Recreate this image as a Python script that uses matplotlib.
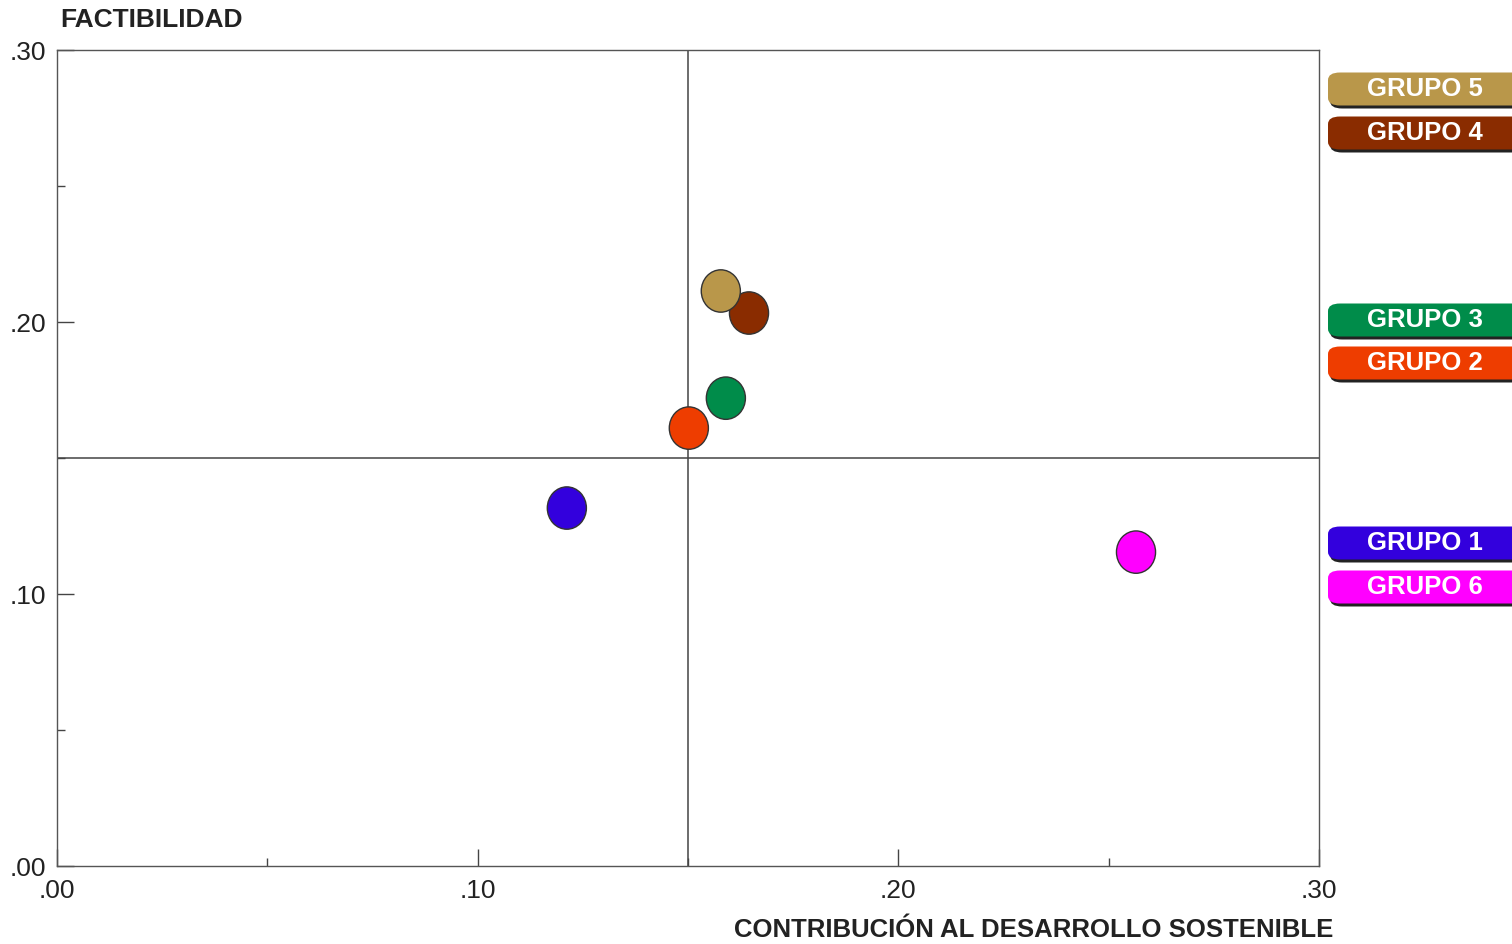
import matplotlib.pyplot as plt
from matplotlib.patches import FancyBboxPatch
from matplotlib.markers import MarkerStyle
from matplotlib.transforms import Affine2D

# data
grupos = ['GRUPO 1', 'GRUPO 2', 'GRUPO 3', 'GRUPO 4', 'GRUPO 5', 'GRUPO 6']
contribucion = [0.1212, 0.1502, 0.1590, 0.1645, 0.1578, 0.2565]
factibilidad = [0.1316, 0.1610, 0.1720, 0.2033, 0.2114, 0.1154]
colores = ['#3300dd', '#ee3d00', '#008c4a', '#8a2c00', '#b9974a', '#ff00ff']
corte_x = 0.15
corte_y = 0.15
ticks = [0.0, 0.10, 0.20, 0.30]
tick_labels = ['.00', '.10', '.20', '.30']

# label box layout (figure pixel y of box centre)
label_y_px = {'GRUPO 5': 89, 'GRUPO 4': 133, 'GRUPO 3': 320,
              'GRUPO 2': 363, 'GRUPO 1': 543, 'GRUPO 6': 587}

W, H = 1512, 944
fig = plt.figure(figsize=(W / 100, H / 100), dpi=100)
ax = fig.add_axes([57 / W, 1 - 866 / H, (1319 - 57) / W, (866 - 50) / H])

plt.rcParams['font.family'] = ['Liberation Sans', 'DejaVu Sans']
txt = '#222222'

ax.axvline(corte_x, color='#444444', lw=1.1, zorder=1)
ax.axhline(corte_y, color='#444444', lw=1.1, zorder=1)
oval = MarkerStyle('o', transform=Affine2D().scale(0.96, 1.04))
ax.scatter(contribucion, factibilidad, s=860, c=colores, marker=oval,
           edgecolors='#333333', linewidths=1.0, zorder=3)

ax.set_xlim(0, 0.30)
ax.set_ylim(0, 0.30)
ax.set_xticks(ticks)
ax.set_yticks(ticks)
ax.set_xticklabels(tick_labels, family='Liberation Sans', fontsize=19, color=txt)
ax.set_yticklabels(tick_labels, family='Liberation Sans', fontsize=19, color=txt)
ax.set_xticks([0.05, 0.15, 0.25], minor=True)
ax.set_yticks([0.05, 0.15, 0.25], minor=True)
ax.tick_params(which='major', direction='in', length=12, width=1, color='#444444')
ax.tick_params(which='minor', direction='in', length=6, width=1, color='#444444')
ax.tick_params(axis='y', which='major', pad=8)
ax.tick_params(axis='x', which='major', pad=9)
for s in ax.spines.values():
    s.set_color('#555555')
    s.set_linewidth(1.0)

fig.text(60 / W, 1 - 20 / H, 'FACTIBILIDAD', fontsize=19, fontweight='bold',
         color=txt, ha='left', va='center')
fig.text(1333 / W, 1 - 930 / H, 'CONTRIBUCIÓN AL DESARROLLO SOSTENIBLE', fontsize=18.5,
         fontweight='bold', color=txt, ha='right', va='center')

# label boxes on the right
for g, c in zip(grupos, colores):
    yc = label_y_px[g]
    x0, x1 = 1328, 1540
    h = 33
    sh = FancyBboxPatch(((x0 + 2) / W, 1 - (yc + h / 2 + 3) / H), (x1 - x0) / W, h / H,
                        boxstyle='round,pad=0,rounding_size=0.008', transform=fig.transFigure,
                        facecolor='#222222', edgecolor='none', zorder=4)
    box = FancyBboxPatch((x0 / W, 1 - (yc + h / 2) / H), (x1 - x0) / W, h / H,
                         boxstyle='round,pad=0,rounding_size=0.008', transform=fig.transFigure,
                         facecolor=c, edgecolor='none', zorder=5)
    fig.patches.extend([sh, box])
    fig.text(1425 / W, 1 - yc / H, g, fontsize=18.5, fontweight='bold', color='white',
             ha='center', va='center', zorder=6)

fig.savefig('out.png', dpi=100)
